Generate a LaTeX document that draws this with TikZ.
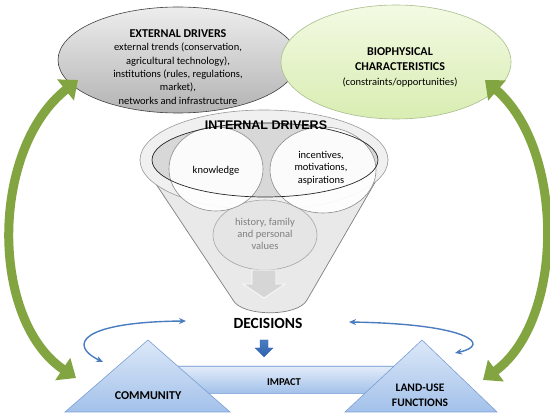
\documentclass[tikz,border=0pt]{standalone}
\usepackage{fontspec}
\setmainfont{Carlito}
\newfontfamily\arialfont{Liberation Sans}
\usetikzlibrary{arrows.meta,shapes.geometric}
\definecolor{extTop}{HTML}{EDEDED}
\definecolor{extBot}{HTML}{B3B3B3}
\definecolor{bioTop}{HTML}{F3FAE3}
\definecolor{bioBot}{HTML}{D9EDB2}
\definecolor{bioLine}{HTML}{A9BE8C}
\definecolor{funFill}{HTML}{E9E9E9}
\definecolor{funLine}{HTML}{7F7F7F}
\definecolor{innerFill}{HTML}{D8D8D8}
\definecolor{triTop}{HTML}{DCE8F8}
\definecolor{triBot}{HTML}{A3C1EA}
\definecolor{triLine}{HTML}{7B9ED4}
\definecolor{arrBlue}{HTML}{4A7CC0}
\definecolor{arrBlueDark}{HTML}{2F62AE}
\definecolor{olive}{HTML}{82A541}
\definecolor{histText}{HTML}{808080}
\tikzset{
  bigellipse/.style={ellipse, inner sep=0pt},
  circ/.style={ellipse, inner sep=0pt, fill=white, draw=black!45, line width=0.6pt},
  greenarrow/.style={draw=olive, line width=9pt,
     {Triangle[width=26pt,length=16pt]}-{Triangle[width=26pt,length=16pt]}},
  bluecurve/.style={draw=arrBlue, line width=1.4pt,
     {Stealth[length=7pt,width=6pt]}-{Stealth[length=7pt,width=6pt]}},
  tri/.style={top color=triTop, bottom color=triBot, draw=triLine, line width=0.6pt},
  lbl/.style={align=center, inner sep=0pt},
}
\begin{document}
\begin{tikzpicture}[x=1pt,y=-1pt]
\useasboundingbox[fill=white] (0,0) rectangle (550,417);

% ---------- funnel ----------
\path[fill=funFill, draw=funLine, line width=0.7pt]
  (140,160) -- (233,300) .. controls (242,317) and (298,317) .. (307,300) -- (388,160) -- cycle;
\path[fill=funFill!70!white, draw=funLine!80, line width=0.6pt]
  (264,160) ellipse [x radius=124pt, y radius=50pt];
\coordinate (inner) at (265,160);
\path[fill=innerFill] (inner) ellipse [x radius=113pt, y radius=37pt];

% circles
\node[circ, minimum width=104, minimum height=70, fill=black!10, draw=black!35] (hist) at (265,235) {};
\node[circ, minimum width=94, minimum height=84, fill opacity=0.92] (know) at (216,169) {};
\node[circ, minimum width=106, minimum height=86, fill opacity=0.92] (inc) at (323,170) {};
\draw[black!85, line width=0.7pt] (inner) ellipse [x radius=113pt, y radius=37pt];

% grey arrow in funnel
\path[fill=black!16, draw=white, line width=0.6pt]
  (252,270) -- (276,270) -- (276,284) -- (285,284) -- (264,298) -- (243,284) -- (252,284) -- cycle;

\node[lbl, font=\arialfont\bfseries\fontsize{12.5}{14}\selectfont] (intl) at (266,125) {INTERNAL DRIVERS};
\node[lbl, font=\fontsize{10.5}{12.5}\selectfont] (knowt) at (216,171) {knowledge};
\node[lbl, font=\fontsize{10.5}{12.5}\selectfont] (inct) at (321,168) {incentives,\\motivations,\\aspirations};
\node[lbl, font=\fontsize{10.5}{12}\selectfont, text=histText] (histt) at (265,234) {history, family\\and personal\\values};

% ---------- top ellipses ----------
\node[bigellipse, minimum width=240, minimum height=106, top color=extTop, bottom color=extBot,
      draw=black!75, line width=0.6pt] (ext) at (178,60) {};
\node[bigellipse, minimum width=230, minimum height=114, top color=bioTop, bottom color=bioBot,
      draw=bioLine, line width=0.6pt] (bio) at (396,62) {};

\node[lbl, font=\fontsize{10.5}{13.4}\selectfont] (extt) at (178,67)
  {{\bfseries\fontsize{12}{13.4}\selectfont EXTERNAL DRIVERS}\\
   external trends (conservation,\\agricultural technology),\\
   institutions (rules, regulations,\\market),\\networks and infrastructure};
\node[lbl, font=\fontsize{10.5}{15}\selectfont] (biot) at (400,67)
  {{\bfseries\fontsize{12}{15}\selectfont BIOPHYSICAL}\\
   {\bfseries\fontsize{12}{15}\selectfont CHARACTERISTICS}\\
   (constraints/opportunities)};

% ---------- decisions ----------
\node[lbl, font=\bfseries\fontsize{15.5}{17}\selectfont] (dec) at (268,323) {DECISIONS};
\path[top color=arrBlue, bottom color=arrBlueDark, draw=arrBlueDark, line width=0.3pt]
  (260,340) -- (268,340) -- (268,348) -- (273,348) -- (264,357) -- (255,348) -- (260,348) -- cycle;

% ---------- impact bar and triangles ----------
\node[rectangle, minimum width=240, minimum height=27, inner sep=0pt,
      top color=triTop!80!white, bottom color=triBot, draw=triLine!80, line width=0.5pt] (bar) at (290,379.5) {};
\path[tri] (148,340) -- (230,412) -- (65,412) -- cycle;
\path[tri] (422,340) -- (497,412) -- (345,412) -- cycle;

\node[lbl, font=\bfseries\fontsize{10.5}{12}\selectfont] (imp) at (284,382) {IMPACT};
\node[lbl, font=\bfseries\fontsize{12}{14}\selectfont] (comm) at (148,396) {COMMUNITY};
\node[lbl, font=\bfseries\fontsize{11.5}{15}\selectfont] (land) at (420,395) {LAND-USE\\FUNCTIONS};

% ---------- connectors ----------
\coordinate (gl1) at (76,378);
\coordinate (gl2) at (78,80);
\coordinate (gr1) at (483,380);
\coordinate (gr2) at (485,80);
\draw[greenarrow] (gl1) .. controls (-10,320) and (-10,150) .. (gl2);
\draw[greenarrow] (gr1) .. controls (565,320) and (565,150) .. (gr2);

\coordinate (bl1) at (103,362);
\coordinate (bl2) at (186,321);
\coordinate (br1) at (349,322);
\coordinate (br2) at (455,353);
\draw[bluecurve] (bl1) .. controls (68,345) and (80,322) .. (bl2);
\draw[bluecurve] (br1) .. controls (470,324) and (492,345) .. (br2);
\end{tikzpicture}
\end{document}
